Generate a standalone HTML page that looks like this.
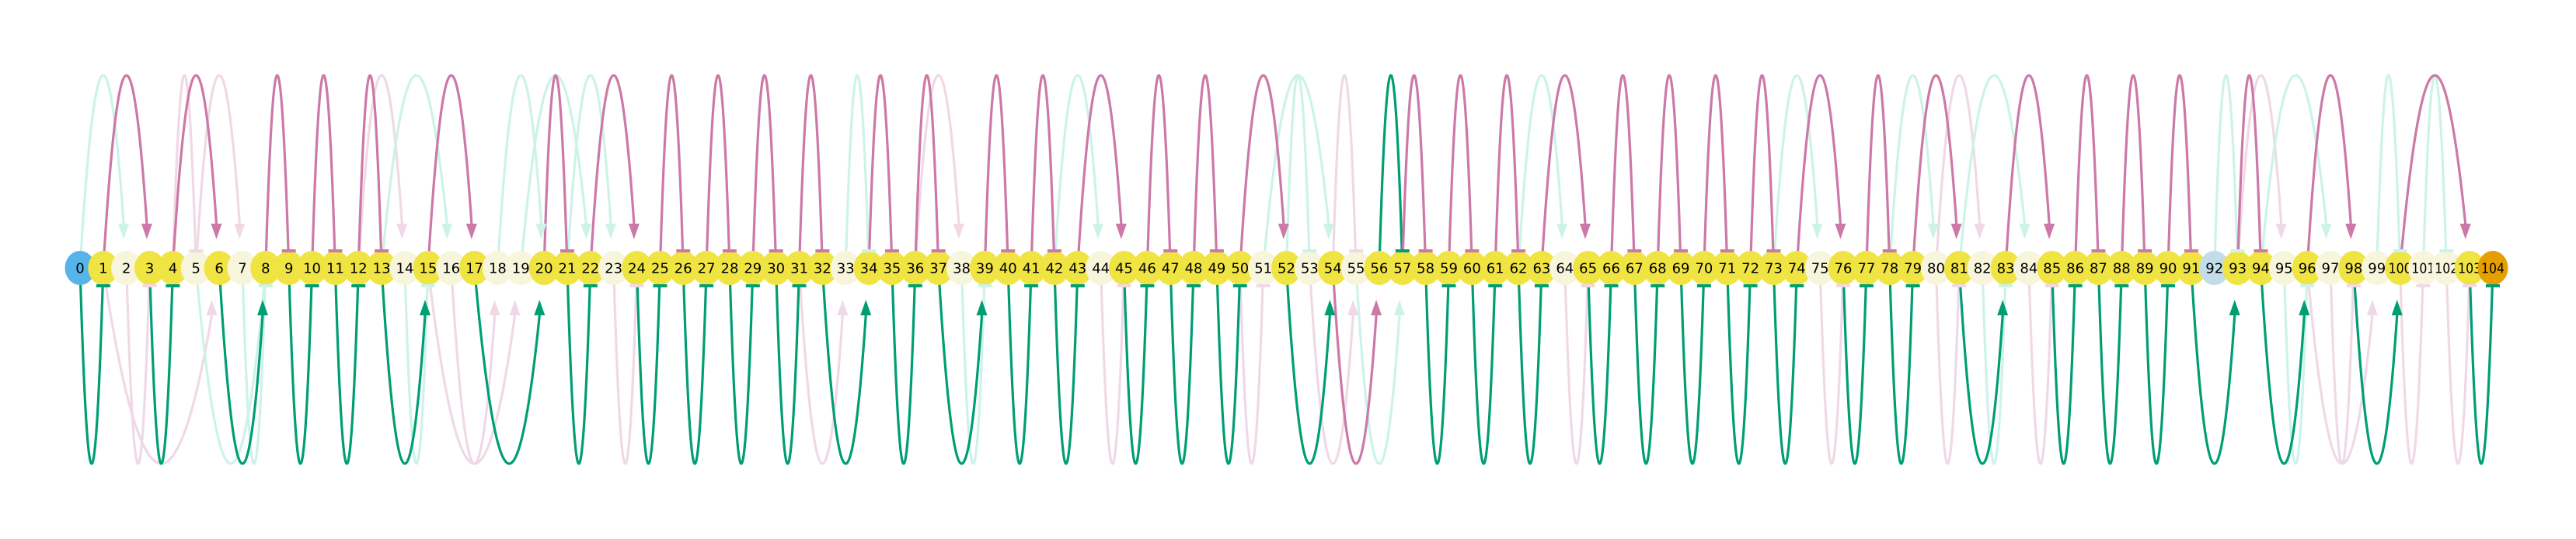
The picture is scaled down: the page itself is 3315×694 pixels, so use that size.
<!DOCTYPE html>
<html><head><meta charset="utf-8"><title>Arc diagram</title>
<style>html,body{margin:0;padding:0;background:#fff;}svg{display:block;}</style></head>
<body>
<svg id="chart" width="3315" height="694" viewBox="0 0 3315 694" xmlns="http://www.w3.org/2000/svg">
<rect x="0" y="0" width="3315" height="694" fill="#ffffff"/>
<g id="light-edges"></g>
<g id="dark-edges"></g>
<g id="nodes"></g>
<g id="markers"></g>
</svg>
<script>
const nodeCount = 105;
const creamNodes = [2,5,7,14,16,18,19,23,33,38,44,51,53,55,64,75,80,82,84,95,97,99,101,102];
const specialNodes = [0,92,104];
const specialColors = ["#56b4e9","#c2dcea","#e69f00"];
const darkPath = [0,1,3,4,6,8,9,10,11,12,13,15,17,20,21,22,24,25,26,27,28,29,30,31,32,34,35,36,37,39,40,41,42,43,45,46,47,48,49,50,52,54,56,57,58,59,60,61,62,63,65,66,67,68,69,70,71,72,73,74,76,77,78,79,81,83,85,86,87,88,89,90,91,93,94,96,98,100,103,104];
const darkSides = ["b","t","b","t","b","t","b","t","b","t","b","t","b","t","b","t","b","t","b","t",
"b","t","b","t","b","t","b","t","b","t","b","t","b","t","b","t","b","t","b","t",
"b","b","t","t",
"b","t","b","t","b","t","b","t","b","t","b","t","b","t","b","t","b","t","b","t",
"b","t","b","t","b","t","b","t","b","t","b","t","b","t","b"];
const darkColorOverride = {41:"p",42:"g"};
const lightEdges = [
"0,2,t,lg,a","2,3,b,lp,t","1,6,b,lp,a","4,5,t,lp,t","5,7,t,lp,a","5,8,b,lg,t","7,8,b,lg,t",
"12,14,t,lp,a","13,16,t,lg,a","14,15,b,lg,t","16,18,b,lp,a","15,19,b,lp,a","18,20,t,lg,a",
"19,22,t,lg,a","21,23,t,lg,a","23,24,b,lp,t","31,33,b,lp,a","33,34,t,lg,t","36,38,t,lp,a",
"38,39,b,lg,t","42,44,t,lg,a","44,45,b,lp,t","50,51,b,lp,t","51,54,t,lg,a","52,53,t,lg,t",
"53,55,b,lp,a","54,55,t,lp,t","55,57,b,lg,a","62,64,t,lg,a","64,65,b,lp,t","73,75,t,lg,a",
"75,76,b,lp,t","78,80,t,lg,a","80,82,t,lp,a","80,81,b,lp,t","81,84,t,lg,a","82,83,b,lg,t",
"84,85,b,lp,t","92,93,t,lg,t","93,95,t,lp,a","94,97,t,lg,a","95,96,b,lg,t","96,99,b,lp,a",
"97,98,b,lp,t","99,100,t,lg,t","101,102,t,lg,t","100,101,b,lp,t","102,103,b,lp,t"];

const NS="http://www.w3.org/2000/svg";
const X0=103, DX=(3208-103)/104, CY=345, TOPPEAK=97, BOTPEAK=597;
const COLORS={g:"#009e73",p:"#cc79a7",lg:"#cdf3e8",lp:"#f0d9e6"};
function xOf(i){return X0+i*DX;}
function mk(tag,parent){const e=document.createElementNS(NS,tag);parent.appendChild(e);return e;}

function drawEdge(a,b,side,col,end,layer,mlayer){
  const x1=xOf(a), x2=xOf(b), c=COLORS[col];
  const peak = side==="t"?TOPPEAK:BOTPEAK;
  const yEnd = side==="t" ? (end==="a"?288:324) : (end==="a"?406:366);
  const xm=(x1+x2)/2, h=(x2-x1)/2;
  // parabola y = CY + (peak-CY)*(1-u^2), u=(x-xm)/h ; end where y=yEnd on the right side
  const uEnd = Math.sqrt(1-(yEnd-CY)/(peak-CY));
  const xEnd = xm + uEnd*h;
  const pts=[]; const n=60;
  for(let k=0;k<=n;k++){
    const u=-1+(uEnd+1)*k/n;
    pts.push((xm+u*h).toFixed(2)+","+(CY+(peak-CY)*(1-u*u)).toFixed(2));
  }
  const p=mk("polyline",layer);
  
  
  p.setAttribute("points",pts.join(" "));
  p.setAttribute("fill","none");p.setAttribute("stroke",c);p.setAttribute("stroke-width","3.2");
  p.setAttribute("stroke-linejoin","round");
  if(end==="a"){
    const tip = side==="t"?308:386;
    const t=mk("polygon",mlayer);
    
    
    t.setAttribute("points",`${xEnd-7},${yEnd} ${xEnd+7},${yEnd} ${xEnd},${tip}`);
    t.setAttribute("fill",c);
  } else {
    const r=mk("rect",mlayer);
    
    
    r.setAttribute("x",x2-9);r.setAttribute("y",side==="t"?321:366);
    r.setAttribute("width",18);r.setAttribute("height",4);r.setAttribute("fill",c);
  }
}
const L=document.getElementById("light-edges"), D=document.getElementById("dark-edges"), M=document.getElementById("markers"), N=document.getElementById("nodes");
lightEdges.forEach(s=>{const q=s.split(",");drawEdge(+q[0],+q[1],q[2],q[3],q[4],L,M);});
for(let k=0;k<darkPath.length-1;k++){
  const a=darkPath[k], b=darkPath[k+1], side=darkSides[k];
  const col = darkColorOverride[k] || (side==="t"?"p":"g");
  drawEdge(a,b,side,col,(b-a===1)?"t":"a",D,M);
}
for(let i=0;i<nodeCount;i++){
  let fill="#f0e442";
  if(creamNodes.includes(i)) fill="#f7f5dc";
  const si=specialNodes.indexOf(i); if(si>=0) fill=specialColors[si];
  const g=mk("g",N);
  
  
  const e=mk("ellipse",g);
  e.setAttribute("cx",xOf(i));e.setAttribute("cy",CY);e.setAttribute("rx",19.5);e.setAttribute("ry",22);e.setAttribute("fill",fill);
  const t=mk("text",g);
  
  
  t.setAttribute("x",xOf(i));t.setAttribute("y",CY+6.5);t.setAttribute("text-anchor","middle");
  t.setAttribute("font-family","DejaVu Sans, Liberation Sans, sans-serif");t.setAttribute("font-size","18");
  if(i>=100){t.setAttribute("textLength","30");t.setAttribute("lengthAdjust","spacingAndGlyphs");}
  t.setAttribute("fill","#000");t.textContent=String(i);
}
</script>
</body></html>
